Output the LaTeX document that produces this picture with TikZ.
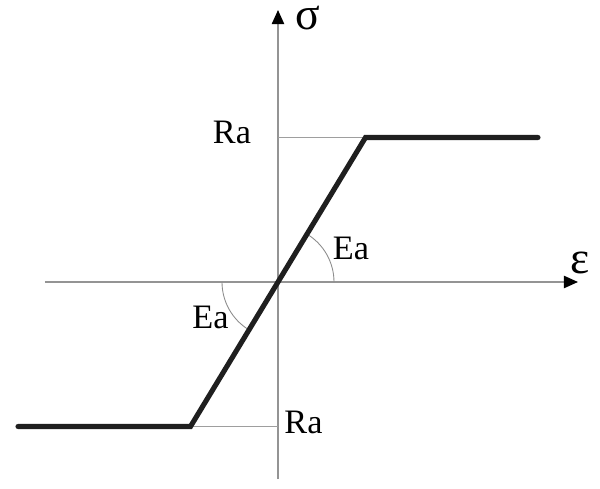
\documentclass[tikz,border=0pt]{standalone}
\usepackage{fontspec}
\setmainfont{Liberation Serif}
\usepackage{tikz}
\usepackage{xcolor}
\usetikzlibrary{arrows.meta, calc, positioning}

\begin{document}
\begin{tikzpicture}[
                    axis/.style={draw=black!42, line width=0.8pt, -{Triangle[length=8pt, width=7pt, black]}},
                    guide/.style={draw=black!38, line width=0.6pt},
                    law/.style={draw=black!88, line width=2.9pt, line cap=round, line join=miter},
                    angmark/.style={draw=black!45, line width=0.5pt},
                    lbl/.style={anchor=base, inner sep=0pt, font=\fontsize{19.5}{22}\selectfont},
                    greek/.style={anchor=base, inner sep=0pt, font=\fontsize{26}{30}\selectfont}
                ]
                    \useasboundingbox (-5.56, -4.14) rectangle (6.44, 5.64);

                    \coordinate (o) at (0, 0);
                    \coordinate (xs) at (-4.66, 0);
                    \coordinate (xe) at (6.0, 0);
                    \coordinate (ys) at (0, -3.94);
                    \coordinate (ye) at (0, 5.44);
                    \coordinate (top) at (1.75, 2.89);
                    \coordinate (topend) at (5.2, 2.89);
                    \coordinate (bot) at (-1.75, -2.89);
                    \coordinate (botend) at (-5.2, -2.89);

                    \node[greek] (sig) at (0.6, 5.04) {σ};
                    \node[greek] (eps) at (6.04, 0.18) {ε};
                    \node[lbl] (ratop) at (-0.92, 2.78) {Ra};
                    \node[lbl] (rabot) at (0.51, -3.02) {Ra};
                    \node[lbl] (eatop) at (1.46, 0.46) {Ea};
                    \node[lbl] (eabot) at (-1.35, -0.92) {Ea};

                    \draw[axis] (xs) -- (xe);
                    \draw[axis] (ys) -- (ye);

                    \draw[guide]
                    (o |- top) -- (top)
                    (bot) -- (o |- bot);

                    \draw[angmark]
                    (1.12, 0) arc[start angle=0, end angle=59, radius=1.12]
                    (-1.12, 0) arc[start angle=180, end angle=239, radius=1.12];

                    \draw[law] (botend) -- (bot) -- (top) -- (topend);
                \end{tikzpicture}
\end{document}
